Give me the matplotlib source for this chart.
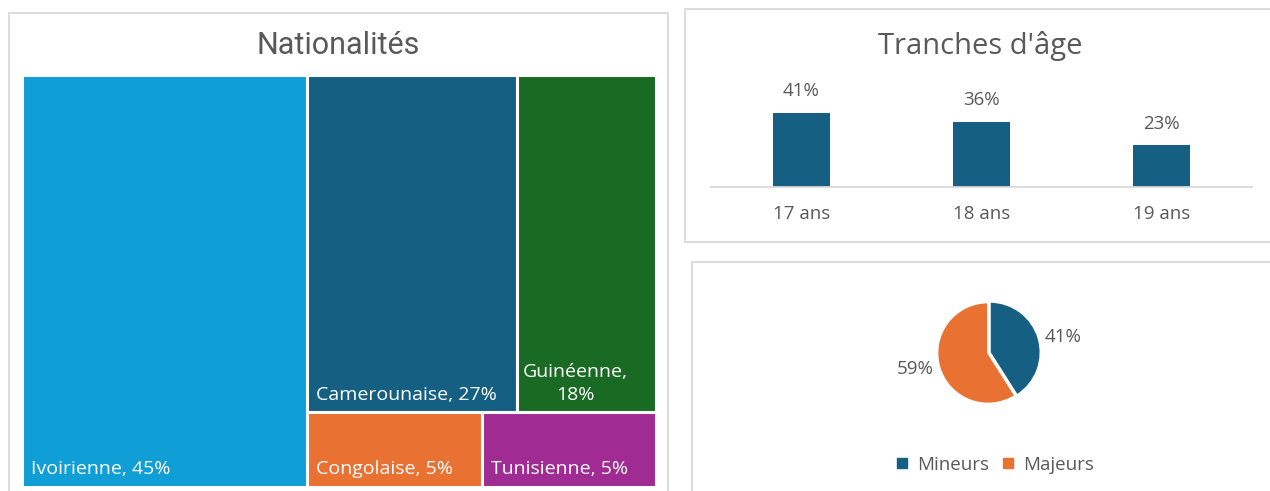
import matplotlib
matplotlib.use("Agg")
import matplotlib.pyplot as plt
from matplotlib.patches import Rectangle
from matplotlib.lines import Line2D

# ---------------- data ----------------
nat_labels = ["Ivoirienne", "Camerounaise", "Guinéenne", "Congolaise", "Tunisienne"]
nat_values = [45, 27, 18, 5, 5]
nat_colors = ["#0F9ED5", "#156082", "#196B24", "#E97132", "#A02B93"]

age_labels = ["17 ans", "18 ans", "19 ans"]
age_values = [41, 36, 23]

pie_labels = ["Mineurs", "Majeurs"]
pie_values = [41, 59]
pie_colors = ["#156082", "#E97132"]

TXT = "#595959"
BORDER = "#D9D9D9"
FONT = ["Open Sans", "DejaVu Sans"]
NARROW = ["Roboto", "Open Sans", "DejaVu Sans"]
plt.rcParams["font.family"] = FONT

W, H = 1270, 491
fig = plt.figure(figsize=(W / 100, H / 100), dpi=100)
fig.patch.set_facecolor("white")


def px_axes(x0, y0, x1, y1, **kw):
    return fig.add_axes([x0 / W, 1 - y1 / H, (x1 - x0) / W, (y1 - y0) / H], **kw)


# background / panel borders (pixel coordinates)
bg = px_axes(0, 0, W, H)
bg.set_xlim(0, W)
bg.set_ylim(H, 0)
bg.axis("off")
bg.set_zorder(-5)
for (x, y, w, h) in [(9, 13, 659, 490), (685, 9, 600, 233), (692, 262, 600, 240)]:
    bg.add_patch(Rectangle((x, y), w, h, facecolor="white", edgecolor=BORDER, lw=1.3))

# ---------------- treemap ----------------
fig.text(338 / W, 1 - 45 / H, "Nationalités", ha="center", va="center",
         fontsize=22, color=TXT, family=NARROW)
tm = px_axes(22, 75, 656, 487)
tm.set_xlim(0, 100)
tm.set_ylim(0, 100)
tm.axis("off")

total = sum(nat_values)
rects = []
w0 = nat_values[0] / total * 100
rects.append((0, 0, w0, 100))
rest = sum(nat_values[1:])
rw = 100 - w0
top = nat_values[1:3]
bot = nat_values[3:5]
h_top = sum(top) / rest * 100
h_bot = 100 - h_top
x = w0
for v in top:
    w = v / sum(top) * rw
    rects.append((x, h_bot, w, h_top))
    x += w
x = w0
for v in bot:
    w = v / sum(bot) * rw
    rects.append((x, 0, w, h_bot))
    x += w

for i, ((x, y, w, h), lab, val, col) in enumerate(zip(rects, nat_labels, nat_values, nat_colors)):
    tm.add_patch(Rectangle((x, y), w, h, facecolor=col, edgecolor="white", lw=2.2))
    if lab == "Guinéenne":
        tm.annotate(f"{lab},\n{val}%", xy=(x, y), xytext=(4.5, 9), textcoords="offset points",
                    ha="left", va="baseline", multialignment="center", color="white", fontsize=14,
                    linespacing=1.3)
    else:
        tm.annotate(f"{lab}, {val}%", xy=(x, y), xytext=(6.5, 9), textcoords="offset points",
                    ha="left", va="baseline", color="white", fontsize=14)

# ---------------- bar chart ----------------
fig.text(980 / W, 1 - 46 / H, "Tranches d'âge", ha="center", va="center",
         fontsize=21, color=TXT)
bx = px_axes(711, 87, 1252, 187)
pos = list(range(len(age_values)))
bars = bx.bar(pos, age_values, width=0.315, color="#156082")
bx.set_xlim(-0.5, len(age_values) - 0.5)
bx.set_ylim(0, max(age_values) * 1.35)
for b, v in zip(bars, age_values):
    bx.annotate(f"{v}%", xy=(b.get_x() + b.get_width() / 2, v), xytext=(0, 9),
                textcoords="offset points", ha="center", va="bottom", fontsize=13.5, color=TXT)
bx.set_xticks(pos)
bx.set_xticklabels(age_labels, fontsize=13.5, color=TXT)
bx.tick_params(axis="x", length=0, pad=13)
bx.set_yticks([])
for s in ["top", "right", "left"]:
    bx.spines[s].set_visible(False)
bx.spines["bottom"].set_color(BORDER)
bx.spines["bottom"].set_linewidth(1.3)
bx.patch.set_alpha(0)

# ---------------- pie ----------------
pa = px_axes(935, 300, 1041, 406)
wedges, texts = pa.pie(pie_values, colors=pie_colors, startangle=90, counterclock=False,
                       explode=[0.04, 0], labels=[f"{v}%" for v in pie_values],
                       labeldistance=1.12,
                       wedgeprops=dict(edgecolor="white", linewidth=1.2),
                       textprops=dict(fontsize=13.5, color=TXT))
pa.set_xlim(-1.05, 1.05)
pa.set_ylim(-1.05, 1.05)
pa.set_aspect("equal")

handles = [Line2D([0], [0], marker="s", linestyle="none", markersize=7,
                  markerfacecolor=c, markeredgecolor=c) for c in pie_colors]
fig.legend(handles, pie_labels, loc="center", bbox_to_anchor=(994 / W, 1 - 465 / H),
           ncol=2, frameon=False, fontsize=13.5, labelcolor=TXT, handlelength=0.8,
           handletextpad=0.4, columnspacing=0.6)

fig.savefig("out.png", dpi=100, facecolor="white")
